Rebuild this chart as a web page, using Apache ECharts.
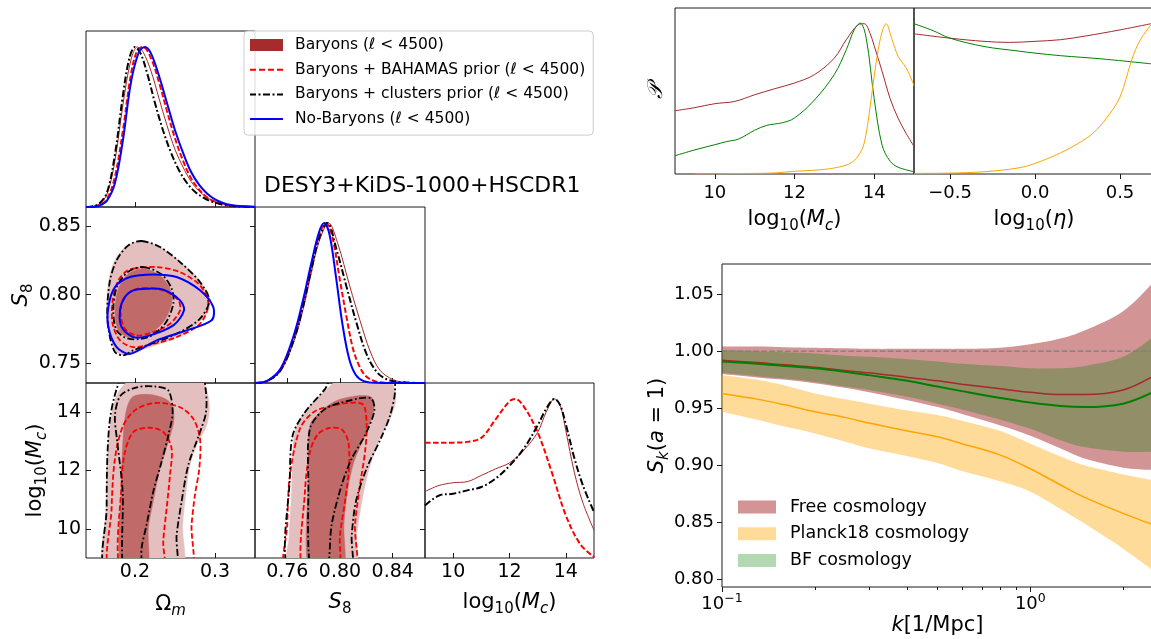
<!DOCTYPE html>
<html><head><meta charset="utf-8">
<script src="https://cdn.jsdelivr.net/npm/echarts@6/dist/echarts.min.js"></script>
<style>html,body{margin:0;padding:0;background:#fff}#c{width:1151px;height:639px}</style>
</head><body><div id="c"></div>
<script>
// ================= DATA =================
const N1 = 'Baryons (ℓ < 4500)';
const N2 = 'Baryons + BAHAMAS prior (ℓ < 4500)';
const N3 = 'Baryons + clusters prior (ℓ < 4500)';
const N4 = 'No-Baryons (ℓ < 4500)';
const C_FREE = 'Free cosmology', C_PL = 'Planck18 cosmology', C_BF = 'BF cosmology';
const TITLE = 'DESY3+KiDS-1000+HSCDR1';

// tick values
const omTicks = [0.2, 0.3];
const s8Ticks = [0.76, 0.80, 0.84];
const s8yTicks = [0.75, 0.80, 0.85];
const mcTicks = [10, 12, 14];
const etaTicks = [-0.5, 0, 0.5];
const skYTicks = [0.80, 0.85, 0.90, 0.95, 1.00, 1.05];
const kMajor = [0.1, 1];
const kMinor = [0.2, 0.3, 0.4, 0.5, 0.6, 0.7, 0.8, 0.9, 2];

// 1D marginals: Omega_m
const omFree = [[0.139,0],[0.145,0.002],[0.155,0.018],[0.165,0.08],[0.175,0.29],[0.185,0.64],[0.195,0.92],[0.203,1.0],[0.21,0.97],[0.22,0.85],[0.23,0.68],[0.24,0.51],[0.25,0.36],[0.26,0.25],[0.27,0.16],[0.28,0.1],[0.29,0.06],[0.30,0.034],[0.315,0.013],[0.33,0.004],[0.35,0]];
const omBahamas = [[0.139,0],[0.145,0.001],[0.155,0.01],[0.165,0.05],[0.175,0.19],[0.185,0.48],[0.195,0.83],[0.203,0.98],[0.21,1.0],[0.22,0.93],[0.23,0.78],[0.24,0.6],[0.25,0.43],[0.26,0.29],[0.27,0.18],[0.28,0.11],[0.29,0.06],[0.30,0.032],[0.31,0.015],[0.32,0.007],[0.335,0.002],[0.35,0]];
const omClusters = [[0.139,0],[0.145,0.002],[0.155,0.02],[0.165,0.09],[0.175,0.33],[0.185,0.70],[0.193,0.93],[0.20,1.0],[0.207,0.96],[0.215,0.84],[0.225,0.65],[0.235,0.48],[0.245,0.34],[0.255,0.23],[0.265,0.15],[0.275,0.095],[0.285,0.06],[0.295,0.035],[0.31,0.015],[0.325,0.005],[0.35,0]];
const omNoBar = [[0.139,0],[0.145,0],[0.155,0.008],[0.165,0.04],[0.175,0.15],[0.185,0.42],[0.195,0.78],[0.205,0.97],[0.2125,1.0],[0.22,0.96],[0.23,0.82],[0.24,0.65],[0.25,0.48],[0.26,0.34],[0.27,0.22],[0.28,0.14],[0.29,0.085],[0.30,0.048],[0.31,0.025],[0.32,0.012],[0.335,0.004],[0.35,0.001]];

// 1D marginals: S8
const s8Free = [[0.7355,0],[0.745,0.012],[0.755,0.075],[0.765,0.26],[0.772,0.46],[0.778,0.68],[0.784,0.88],[0.7914,1.0],[0.798,0.88],[0.8076,0.6],[0.8152,0.39],[0.8228,0.2],[0.8303,0.08],[0.8405,0.02],[0.85,0.004],[0.8645,0]];
const s8Bahamas = [[0.7355,0],[0.745,0.014],[0.755,0.085],[0.765,0.28],[0.772,0.5],[0.778,0.72],[0.784,0.92],[0.7894,1.0],[0.794,0.92],[0.80,0.64],[0.805,0.41],[0.81,0.21],[0.815,0.1],[0.82,0.04],[0.827,0.01],[0.835,0.002],[0.8645,0]];
const s8Clusters = [[0.7355,0],[0.745,0.013],[0.755,0.08],[0.765,0.27],[0.772,0.48],[0.778,0.7],[0.784,0.9],[0.7904,1.0],[0.7975,0.83],[0.805,0.6],[0.8127,0.37],[0.8202,0.18],[0.8278,0.07],[0.835,0.025],[0.845,0.006],[0.8645,0]];
const s8NoBar = [[0.7355,0],[0.745,0.015],[0.755,0.09],[0.765,0.3],[0.772,0.52],[0.778,0.74],[0.784,0.94],[0.788,1.0],[0.792,0.93],[0.797,0.66],[0.802,0.36],[0.807,0.15],[0.812,0.05],[0.818,0.012],[0.826,0.002],[0.8645,0]];

// 1D marginals: log10 Mc
const mcFree = [[9,0.418],[9.5,0.456],[10,0.473],[10.5,0.48],[11,0.519],[11.5,0.56],[12,0.598],[12.5,0.676],[13,0.79],[13.3,0.916],[13.6,1.0],[13.8,0.96],[14,0.8],[14.3,0.54],[14.6,0.35],[15,0.174]];
const mcBahamas = [[9,0.724],[9.5,0.724],[10,0.725],[10.5,0.73],[11,0.755],[11.5,0.87],[12,0.985],[12.2,1.0],[12.5,0.955],[13,0.79],[13.5,0.54],[14,0.268],[14.5,0.09],[15,0.006]];
const mcClusters = [[9,0.33],[9.5,0.393],[10,0.404],[10.5,0.425],[11,0.446],[11.5,0.498],[12,0.58],[12.5,0.686],[13,0.833],[13.3,0.937],[13.6,1.0],[13.8,0.96],[14,0.84],[14.3,0.63],[14.6,0.46],[15,0.289]];

// 2D contours: S8 vs Omega_m  [Omega_m, S8]
const s8omFree2 = [[0.2063,0.8392],[0.2271,0.8360],[0.2521,0.8263],[0.2771,0.8129],[0.2938,0.7971],[0.2896,0.7861],[0.2646,0.7727],[0.2313,0.7642],[0.2063,0.7594],[0.1896,0.7557],[0.1771,0.7582],[0.1688,0.7691],[0.1646,0.7861],[0.1667,0.8080],[0.1729,0.8226],[0.1854,0.8336]];
const s8omFree1 = [[0.2104,0.8190],[0.2313,0.8141],[0.2438,0.8044],[0.2458,0.7934],[0.2354,0.7800],[0.2146,0.7703],[0.1938,0.7686],[0.1792,0.7740],[0.1750,0.7886],[0.1792,0.8044],[0.1917,0.8153]];
const s8omClus2 = [[0.2083,0.8392],[0.2313,0.8348],[0.2563,0.8238],[0.2813,0.8092],[0.2929,0.7959],[0.2813,0.7825],[0.2563,0.7727],[0.2271,0.7655],[0.1979,0.7594],[0.1854,0.7557],[0.1750,0.7582],[0.1679,0.7715],[0.1654,0.7886],[0.1688,0.8105],[0.1771,0.8251],[0.1917,0.8360]];
const s8omClus1 = [[0.2104,0.8202],[0.2333,0.8148],[0.2458,0.8044],[0.2479,0.7934],[0.2375,0.7788],[0.2167,0.7691],[0.1917,0.7679],[0.1771,0.7740],[0.1729,0.7886],[0.1771,0.8051],[0.1908,0.8165]];
const s8omBah2 = [[0.1979,0.8190],[0.2271,0.8202],[0.2563,0.8165],[0.2813,0.8068],[0.2917,0.7934],[0.2813,0.7788],[0.2521,0.7691],[0.2229,0.7642],[0.1979,0.7618],[0.1813,0.7667],[0.1721,0.7788],[0.1721,0.7959],[0.1792,0.8105],[0.1896,0.8173]];
const s8omBah1 = [[0.2104,0.8049],[0.2354,0.8032],[0.2542,0.7959],[0.2563,0.7886],[0.2438,0.7788],[0.2229,0.7727],[0.2021,0.7703],[0.1875,0.7752],[0.1821,0.7861],[0.1846,0.7959],[0.1958,0.8027]];
const s8omNoB2 = [[0.2229,0.8148],[0.2521,0.8129],[0.2813,0.8032],[0.2979,0.7910],[0.2958,0.7813],[0.2646,0.7740],[0.2271,0.7667],[0.1938,0.7569],[0.1771,0.7618],[0.1667,0.7764],[0.1667,0.7910],[0.1750,0.8056],[0.1938,0.8129]];
const s8omNoB1 = [[0.2146,0.8044],[0.2354,0.8036],[0.2563,0.7959],[0.2613,0.7886],[0.2479,0.7776],[0.2146,0.7696],[0.1979,0.7691],[0.1833,0.7764],[0.1813,0.7886],[0.1875,0.7983],[0.1979,0.8032]];

// 2D contours: log10 Mc vs Omega_m  [Omega_m, Mc]
const mcomFree2 = [[0.1638,8.44],[0.1638,10.71],[0.1654,12.41],[0.1688,13.55],[0.1771,14.57],[0.1896,15.02],[0.2063,15.25],[0.2646,15.25],[0.2854,15.02],[0.2929,14.23],[0.2896,13.55],[0.2771,12.87],[0.2688,12.19],[0.2638,11.28],[0.2596,10.15],[0.2571,8.44]];
const mcomFree1 = [[0.1833,8.44],[0.1833,11.85],[0.1854,13.21],[0.1896,14.11],[0.1979,14.54],[0.2229,14.59],[0.2438,14.34],[0.2488,13.77],[0.2417,12.98],[0.2313,12.07],[0.2229,10.94],[0.2167,10.03],[0.2146,8.44]];
const mcomClus2 = [[0.1646,8.44],[0.1646,10.71],[0.1654,12.41],[0.1688,13.77],[0.1771,14.79],[0.1896,15.47],[0.2813,15.47],[0.2883,14.79],[0.2888,14.0],[0.2813,13.32],[0.2667,12.19],[0.2583,10.94],[0.2521,9.80],[0.2488,8.44]];
const mcomClus1 = [[0.1863,8.44],[0.1846,11.28],[0.1779,12.98],[0.1750,13.89],[0.1821,14.57],[0.2021,14.85],[0.2250,14.88],[0.2417,14.74],[0.2471,14.0],[0.2417,13.21],[0.2333,12.30],[0.2229,11.28],[0.2146,10.15],[0.2083,9.35],[0.2063,8.44]];
const mcomBah2 = [[0.1708,8.44],[0.1708,10.71],[0.1750,12.41],[0.1854,13.55],[0.2021,14.11],[0.2271,14.32],[0.2563,14.17],[0.2729,13.77],[0.2813,13.09],[0.2804,12.07],[0.2750,11.17],[0.2708,10.15],[0.2679,8.44]];
const mcomBah1 = [[0.1833,8.44],[0.1833,11.62],[0.1875,12.64],[0.1979,13.32],[0.2167,13.47],[0.2354,13.32],[0.2458,12.75],[0.2438,11.85],[0.2396,10.71],[0.2354,9.58],[0.2346,8.44]];

// 2D contours: log10 Mc vs S8  [S8, Mc]
const mcs8Free2 = [[0.7608,8.44],[0.7615,9.80],[0.7633,11.28],[0.7646,12.98],[0.7684,13.66],[0.7772,14.23],[0.7899,14.79],[0.8,15.13],[0.8278,15.25],[0.8392,15.02],[0.8423,14.45],[0.8385,13.83],[0.8291,12.98],[0.8208,11.85],[0.8157,10.71],[0.8127,9.80],[0.8106,8.44]];
const mcs8Free1 = [[0.7772,8.44],[0.7760,11.85],[0.7772,13.55],[0.7848,14.0],[0.7975,14.40],[0.8152,14.57],[0.8240,14.51],[0.8258,14.11],[0.8190,13.21],[0.8106,12.30],[0.8056,11.28],[0.8030,10.15],[0.8018,8.44]];
const mcs8Clus2 = [[0.7620,8.44],[0.7620,11.85],[0.7641,13.21],[0.7734,14.0],[0.7886,14.79],[0.7949,15.25],[0.8392,15.25],[0.8418,14.74],[0.8380,13.89],[0.8309,13.09],[0.8202,12.07],[0.8121,10.94],[0.8089,9.80],[0.8071,8.44]];
const mcs8Clus1 = [[0.7780,8.44],[0.7760,11.62],[0.7772,13.43],[0.7886,14.11],[0.8076,14.40],[0.8233,14.48],[0.8261,14.06],[0.8190,13.21],[0.8089,12.41],[0.8013,11.51],[0.7937,10.15],[0.7894,8.44]];
const mcs8Bah2 = [[0.7595,8.44],[0.7600,10.15],[0.7620,11.85],[0.7696,13.43],[0.7798,14.0],[0.7924,14.20],[0.8076,14.32],[0.8177,14.25],[0.8202,13.55],[0.8190,12.64],[0.8152,11.51],[0.8114,10.15],[0.8101,8.44]];
const mcs8Bah1 = [[0.7722,8.44],[0.7734,11.28],[0.7772,12.64],[0.7835,13.26],[0.7924,13.46],[0.8013,13.41],[0.8063,12.98],[0.8068,12.07],[0.8038,10.94],[0.8,9.80],[0.7980,8.44]];

// Top-right: posteriors of log10 Mc and log10 eta
const pMcFree = [[9,0.419],[9.5,0.44],[10,0.466],[10.5,0.481],[11,0.525],[11.5,0.565],[12,0.603],[12.5,0.658],[13,0.768],[13.3,0.89],[13.6,0.989],[13.75,0.996],[13.9,0.93],[14,0.85],[14.2,0.68],[14.4,0.5],[14.6,0.37],[14.8,0.27],[15,0.183]];
const pMcBF = [[9,0.121],[9.5,0.16],[10,0.194],[10.3,0.215],[10.6,0.232],[11,0.29],[11.3,0.322],[11.7,0.34],[12,0.371],[12.5,0.49],[13,0.66],[13.3,0.823],[13.5,0.956],[13.65,1.0],[13.8,0.9],[14,0.5],[14.2,0.19],[14.4,0.085],[14.6,0.045],[15,0.015]];
const pMcPlanck = [[9.5,0],[10,0.001],[10.5,0.003],[11,0.004],[11.5,0.007],[12,0.018],[12.5,0.025],[13,0.04],[13.4,0.07],[13.6,0.12],[13.75,0.205],[13.9,0.448],[14,0.647],[14.15,0.89],[14.3,0.996],[14.45,0.89],[14.6,0.78],[14.75,0.724],[14.85,0.68],[15,0.585]];
const pEtaFree = [[-0.712,0.929],[-0.5,0.9],[-0.3,0.879],[-0.15,0.872],[0,0.879],[0.15,0.89],[0.3,0.915],[0.5,0.955],[0.7,1.0]];
const pEtaBF = [[-0.712,0.996],[-0.6,0.95],[-0.5,0.9],[-0.3,0.845],[-0.1,0.815],[0,0.801],[0.15,0.784],[0.4,0.762],[0.7,0.728]];
const pEtaPlanck = [[-0.712,0.004],[-0.5,0.006],[-0.3,0.015],[-0.1,0.04],[0,0.07],[0.15,0.14],[0.25,0.2],[0.34,0.27],[0.42,0.37],[0.5,0.51],[0.57,0.76],[0.62,0.89],[0.69,1.0]];

// Bottom-right: S_k(a=1)
const skK = [0.1, 0.13, 0.16, 0.2, 0.25, 0.3, 0.4, 0.5, 0.6, 0.8, 1.0, 1.25, 1.5, 2.0, 2.5];
const skFreeMid = [0.992,0.990,0.988,0.986,0.983,0.981,0.977,0.974,0.971,0.967,0.964,0.962,0.962,0.966,0.978];
const skFreeHi  = [1.004,1.004,1.0035,1.003,1.0025,1.002,1.002,1.002,1.002,1.003,1.006,1.011,1.018,1.035,1.060];
const skFreeLo  = [0.980,0.977,0.975,0.972,0.968,0.964,0.957,0.951,0.945,0.935,0.926,0.915,0.906,0.898,0.896];
const skBFMid = [0.991,0.989,0.987,0.985,0.982,0.979,0.974,0.969,0.965,0.959,0.955,0.952,0.951,0.954,0.964];
const skBFHi  = [1.001,1.000,0.999,0.998,0.996,0.995,0.993,0.991,0.989,0.987,0.985,0.985,0.987,0.995,1.012];
const skBFLo  = [0.981,0.978,0.976,0.973,0.969,0.966,0.960,0.954,0.949,0.940,0.932,0.922,0.916,0.912,0.912];
const skPlMid = [0.963,0.958,0.953,0.947,0.942,0.937,0.930,0.925,0.919,0.909,0.897,0.883,0.872,0.858,0.848];
const skPlHi  = [0.979,0.975,0.970,0.963,0.958,0.954,0.948,0.944,0.939,0.930,0.919,0.908,0.900,0.892,0.887];
const skPlLo  = [0.947,0.940,0.934,0.928,0.921,0.915,0.908,0.902,0.895,0.886,0.877,0.862,0.849,0.827,0.808];
const unityK = [0.1, 2.5];
const unityY = [1, 1];

// ================= STYLE =================
const F = 'DejaVu Sans';
const INK = '#1a1a1a';
const BROWN = '#a52a2a', RED = '#ff0000', BLACK = '#000000', BLUE = '#0000ff';
const GREEN = '#008000', ORANGE = '#ffa500';
const FILL2 = '#e3bfbf', FILL1 = '#c06a6a';
const DASH = [5.5, 2.5], DASHDOT = [7, 2.5, 1.8, 2.5];

function rich(fs) {
  const lh = Math.round(fs * 1.35), s = Math.round(fs * 0.7);
  return {
    n: {fontFamily: F, fontSize: fs, lineHeight: lh, color: '#000'},
    i: {fontFamily: F, fontSize: fs, fontStyle: 'italic', lineHeight: lh, color: '#000'},
    sub: {fontFamily: F, fontSize: s, lineHeight: s, verticalAlign: 'bottom', color: '#000'},
    isub: {fontFamily: F, fontSize: s, fontStyle: 'italic', lineHeight: s, verticalAlign: 'bottom', color: '#000'},
    sup: {fontFamily: F, fontSize: s, lineHeight: s, verticalAlign: 'top', color: '#000'}
  };
}
const NAME_OM = '{n|Ω}{isub|m}';
const NAME_S8 = '{i|S}{sub|8}';
const NAME_MC = '{n|log}{sub|10}{n|(}{i|M}{isub|c}{n|)}';
const NAME_ETA = '{n|log}{sub|10}{n|(}{i|η}{n|)}';
const NAME_P = '{i|𝒫}';
const NAME_SK = '{i|S}{isub|k}{n|(}{i|a}{n| = 1)}';
const NAME_K = '{i|k}{n|[1/Mpc]}';

const f1 = v => v.toFixed(1);
const f2 = v => v.toFixed(2);
const f0 = v => String(Math.round(v));
const fEta = v => (v < -1e-9 ? '\u2212' + Math.abs(v).toFixed(1) : Math.abs(v).toFixed(1));

function axis(o) {
  const a = {
    type: o.type || 'value', gridIndex: o.g, min: o.min, max: o.max, position: o.pos,
    splitLine: {show: false}, axisLine: {show: false},
    axisTick: {show: !!o.ticks, inside: !o.out, length: o.tl || 5, lineStyle: {color: INK, width: 1}},
    axisLabel: {show: !!o.fmt, color: '#000', fontFamily: F, fontSize: o.fs || 19, margin: o.margin == null ? 5 : o.margin},
    nameMoveOverlap: false, silent: true
  };
  if (o.ticks) { a.axisTick.customValues = o.ticks; a.axisLabel.customValues = o.ticks; }
  if (o.fmt) a.axisLabel.formatter = o.fmt;
  if (o.lrich) a.axisLabel.rich = o.lrich;
  if (o.type === 'log') a.logBase = 10;
  if (o.name) {
    a.name = o.name; a.nameLocation = 'middle'; a.nameGap = o.gap;
    a.nameTextStyle = {rich: rich(o.nfs || 21), fontFamily: F, fontSize: o.nfs || 21, color: '#000'};
  }
  return a;
}

const grids = [
  [86, 31, 169, 176], [86, 207, 169, 176], [255, 207, 170, 176],
  [86, 383, 169, 175], [255, 383, 170, 175], [425, 383, 169, 175],
  [675, 8, 239, 166], [914, 8, 240, 166], [722, 264, 431, 323]
].map(r => ({left: r[0], top: r[1], width: r[2], height: r[3], show: true, borderColor: INK, borderWidth: 1,
  backgroundColor: 'transparent', containLabel: false, outerBoundsMode: 'none'}));

const OM = [0.1388, 0.35], S8X = [0.7355, 0.8645], S8Y = [0.7356, 0.864], MC = [9, 15], PY = [0, 1.1];
const supRich = {n: {fontFamily: F, fontSize: 18, lineHeight: 24, color: '#000'}, sup: {fontFamily: F, fontSize: 12.5, lineHeight: 12, verticalAlign: 'top', color: '#000'}};

const xAxes = [
  axis({g: 0, min: OM[0], max: OM[1], ticks: omTicks, pos: 'bottom'}),                               // 0
  axis({g: 1, min: OM[0], max: OM[1], ticks: omTicks, pos: 'bottom'}),                               // 1
  axis({g: 2, min: S8X[0], max: S8X[1], ticks: s8Ticks, pos: 'bottom'}),                             // 2
  axis({g: 3, min: OM[0], max: OM[1], ticks: omTicks, fmt: f1, pos: 'bottom', name: NAME_OM, gap: 33}),   // 3
  axis({g: 4, min: S8X[0], max: S8X[1], ticks: s8Ticks, fmt: f2, pos: 'bottom', name: NAME_S8, gap: 31}), // 4
  axis({g: 5, min: MC[0], max: MC[1], ticks: mcTicks, fmt: f0, pos: 'bottom', name: NAME_MC, gap: 31}),   // 5
  axis({g: 6, min: MC[0], max: MC[1], ticks: mcTicks, fmt: f0, out: true, fs: 18, margin: 10, pos: 'bottom', name: NAME_MC, gap: 32}), // 6
  axis({g: 7, min: -0.712, max: 0.7, ticks: etaTicks, fmt: fEta, out: true, fs: 18, margin: 10, pos: 'bottom', name: NAME_ETA, gap: 32}), // 7
  axis({g: 8, type: 'log', min: 0.1, max: 2.5, ticks: kMajor, out: true, tl: 5, margin: 5, pos: 'bottom', lrich: supRich,
        fmt: v => '{n|10}{sup|' + String(Math.round(Math.log10(v))).replace('-', '\u2212') + '}', name: NAME_K, gap: 25}), // 8
  axis({g: 8, type: 'log', min: 0.1, max: 2.5, ticks: kMinor, out: true, tl: 3, pos: 'bottom'})    // 9
];

const yAxes = [
  axis({g: 0, min: PY[0], max: PY[1]}),                                                               // 0
  axis({g: 1, min: S8Y[0], max: S8Y[1], ticks: s8yTicks, fmt: f2, pos: 'left', name: NAME_S8, gap: 50}), // 1
  axis({g: 1, min: S8Y[0], max: S8Y[1], ticks: s8yTicks, pos: 'right'}),                             // 2
  axis({g: 2, min: PY[0], max: PY[1]}),                                                               // 3
  axis({g: 3, min: MC[0], max: MC[1], ticks: mcTicks, fmt: f0, pos: 'left', name: NAME_MC, gap: 36}),  // 4
  axis({g: 3, min: MC[0], max: MC[1], ticks: mcTicks, pos: 'right'}),                                 // 5
  axis({g: 4, min: MC[0], max: MC[1], ticks: mcTicks, pos: 'left'}),                                  // 6
  axis({g: 4, min: MC[0], max: MC[1], ticks: mcTicks, pos: 'right'}),                                 // 7
  axis({g: 5, min: PY[0], max: PY[1]}),                                                               // 8
  axis({g: 6, min: PY[0], max: PY[1], pos: 'left', name: NAME_P, gap: 4}),                            // 9
  axis({g: 7, min: PY[0], max: PY[1]}),                                                               // 10
  axis({g: 8, min: 0.7935, max: 1.0763, ticks: skYTicks, fmt: f2, out: true, fs: 18, margin: 8, pos: 'left', name: NAME_SK, gap: 50}) // 11
];

// ================= SERIES BUILDERS =================
function line(name, xi, yi, data, color, width, type, z) {
  return {type: 'line', name: name, xAxisIndex: xi, yAxisIndex: yi, data: data, showSymbol: false, symbol: 'none',
    smooth: 0.35, silent: true, z: z || 5, lineStyle: {color: color, width: width, type: type || 'solid'},
    itemStyle: {color: color}, emphasis: {disabled: true}};
}
function clipGroup(params, children) {
  const cs = params.coordSys;
  return {type: 'group', clipPath: {type: 'rect', shape: {x: cs.x, y: cs.y, width: cs.width, height: cs.height}}, children: children};
}
function contour(name, xi, yi, pts, style, z) {
  return {type: 'custom', name: name, xAxisIndex: xi, yAxisIndex: yi, data: pts, encode: {x: 0, y: 1},
    silent: true, clip: true, z: z,
    renderItem: function (params, api) {
      if (params.dataIndex !== 0) return null;
      const n = params.dataInsideLength, P = [];
      for (let i = 0; i < n; i++) P.push(api.coord([api.value(0, i), api.value(1, i)]));
      return clipGroup(params, [{type: 'polygon', shape: {points: P, smooth: 0.3}, style: style}]);
    }};
}
function crPath(p) {
  let s = '';
  for (let i = 0; i < p.length - 1; i++) {
    const p0 = p[Math.max(i - 1, 0)], p1 = p[i], p2 = p[i + 1], p3 = p[Math.min(i + 2, p.length - 1)];
    s += 'C' + (p1[0] + (p2[0] - p0[0]) / 6) + ',' + (p1[1] + (p2[1] - p0[1]) / 6) + ',' +
         (p2[0] - (p3[0] - p1[0]) / 6) + ',' + (p2[1] - (p3[1] - p1[1]) / 6) + ',' + p2[0] + ',' + p2[1];
  }
  return s;
}
function band(name, hi, lo, fill, z) {
  const data = skK.map((k, i) => [k, hi[i], lo[i]]);
  return {type: 'custom', name: name, xAxisIndex: 8, yAxisIndex: 11, data: data, encode: {x: 0, y: [1, 2]},
    silent: true, clip: true, z: z,
    renderItem: function (params, api) {
      if (params.dataIndex !== 0) return null;
      const n = params.dataInsideLength, U = [], L = [];
      for (let i = 0; i < n; i++) {
        const x = api.value(0, i);
        U.push(api.coord([x, api.value(1, i)]));
        L.push(api.coord([x, api.value(2, i)]));
      }
      L.reverse();
      const d = 'M' + U[0][0] + ',' + U[0][1] + crPath(U) + 'L' + L[0][0] + ',' + L[0][1] + crPath(L) + 'Z';
      return clipGroup(params, [{type: 'path', shape: {pathData: d}, style: {fill: fill, stroke: null}}]);
    }};
}
const pair = (xs, ys) => xs.map((x, i) => [x, ys[i]]);

const fill2 = {fill: FILL2, stroke: FILL2, lineWidth: 0.5};
const fill1 = {fill: FILL1, stroke: FILL1, lineWidth: 0.5};
const stRed = {fill: 'none', stroke: RED, lineWidth: 1.8, lineDash: DASH};
const stBlack = {fill: 'none', stroke: BLACK, lineWidth: 1.8, lineDash: DASHDOT};
const stBlue = {fill: 'none', stroke: BLUE, lineWidth: 2};

const series = [
  // 1D Omega_m (x0,y0)
  line(N1, 0, 0, omFree, BROWN, 1),
  line(N2, 0, 0, omBahamas, RED, 2, DASH),
  line(N3, 0, 0, omClusters, BLACK, 2, DASHDOT),
  line(N4, 0, 0, omNoBar, BLUE, 2),
  // 1D S8 (x2,y3)
  line(N1, 2, 3, s8Free, BROWN, 1),
  line(N2, 2, 3, s8Bahamas, RED, 2, DASH),
  line(N3, 2, 3, s8Clusters, BLACK, 2, DASHDOT),
  line(N4, 2, 3, s8NoBar, BLUE, 2),
  // 1D Mc (x5,y8)
  line(N1, 5, 8, mcFree, BROWN, 1),
  line(N2, 5, 8, mcBahamas, RED, 2, DASH),
  line(N3, 5, 8, mcClusters, BLACK, 2, DASHDOT),
  // S8 vs Om (x1,y1)
  contour(N1, 1, 1, s8omFree2, fill2, 2),
  contour(N1, 1, 1, s8omFree1, fill1, 3),
  contour(N2, 1, 1, s8omBah2, stRed, 4),
  contour(N2, 1, 1, s8omBah1, stRed, 4),
  contour(N3, 1, 1, s8omClus2, stBlack, 4),
  contour(N3, 1, 1, s8omClus1, stBlack, 4),
  contour(N4, 1, 1, s8omNoB2, stBlue, 4),
  contour(N4, 1, 1, s8omNoB1, stBlue, 4),
  // Mc vs Om (x3,y4)
  contour(N1, 3, 4, mcomFree2, fill2, 2),
  contour(N1, 3, 4, mcomFree1, fill1, 3),
  contour(N2, 3, 4, mcomBah2, stRed, 4),
  contour(N2, 3, 4, mcomBah1, stRed, 4),
  contour(N3, 3, 4, mcomClus2, stBlack, 4),
  contour(N3, 3, 4, mcomClus1, stBlack, 4),
  // Mc vs S8 (x4,y6)
  contour(N1, 4, 6, mcs8Free2, fill2, 2),
  contour(N1, 4, 6, mcs8Free1, fill1, 3),
  contour(N2, 4, 6, mcs8Bah2, stRed, 4),
  contour(N2, 4, 6, mcs8Bah1, stRed, 4),
  contour(N3, 4, 6, mcs8Clus2, stBlack, 4),
  contour(N3, 4, 6, mcs8Clus1, stBlack, 4),
  // top-right posteriors
  line(C_FREE, 6, 9, pMcFree, BROWN, 1),
  line(C_BF, 6, 9, pMcBF, GREEN, 1),
  line(C_PL, 6, 9, pMcPlanck, ORANGE, 1),
  line(C_FREE, 7, 10, pEtaFree, BROWN, 1),
  line(C_BF, 7, 10, pEtaBF, GREEN, 1),
  line(C_PL, 7, 10, pEtaPlanck, ORANGE, 1),
  // S_k bands and lines
  band(C_FREE, skFreeHi, skFreeLo, 'rgba(165,42,42,0.5)', 2),
  band(C_PL, skPlHi, skPlLo, 'rgba(255,165,0,0.4)', 3),
  band(C_BF, skBFHi, skBFLo, 'rgba(0,128,0,0.3)', 4),
  line('', 8, 11, pair(unityK, unityY), 'rgba(128,128,128,0.9)', 1.5, [5.5, 2.4], 5),
  line(C_FREE, 8, 11, pair(skK, skFreeMid), BROWN, 1.5, 'solid', 6),
  line(C_BF, 8, 11, pair(skK, skBFMid), GREEN, 2, 'solid', 6),
  line(C_PL, 8, 11, pair(skK, skPlMid), ORANGE, 1.5, 'solid', 6)
];

const legends = [
  {
    left: 244, top: 31, orient: 'vertical', selectedMode: false,
    itemWidth: 33, itemHeight: 12, itemGap: 6.7,
    padding: [5, 8, 7, 6],
    backgroundColor: 'rgba(255,255,255,0.85)', borderColor: '#cccccc', borderWidth: 1, borderRadius: 4,
    data: [
      {name: N1, icon: 'rect', itemStyle: {color: '#a62c2c'}},
      {name: N2, icon: 'path://M0,0h6v2h-6z M9,0h6v2h-6z M18,0h6v2h-6z M27,0h6v2h-6z', itemStyle: {color: RED}},
      {name: N3, icon: 'path://M0,0h6v2h-6z M8.5,0h2v2h-2z M13,0h7v2h-7z M22.5,0h2v2h-2z M27,0h6v2h-6z', itemStyle: {color: BLACK}},
      {name: N4, icon: 'path://M0,0h33v2h-33z', itemStyle: {color: BLUE}}
    ],
    formatter: name => '{g|}' + name,
    textStyle: {fontFamily: F, fontSize: 15.5, color: '#000', lineHeight: 18, rich: {g: {width: 7}}}
  },
  {
    left: 738, top: 497, orient: 'vertical', selectedMode: false,
    itemWidth: 38, itemHeight: 13, itemGap: 6.7, padding: 0,
    data: [
      {name: C_FREE, icon: 'rect', itemStyle: {color: 'rgba(165,42,42,0.5)'}},
      {name: C_PL, icon: 'rect', itemStyle: {color: 'rgba(255,165,0,0.4)'}},
      {name: C_BF, icon: 'rect', itemStyle: {color: 'rgba(0,128,0,0.3)'}}
    ],
    formatter: name => '{g|}' + name,
    textStyle: {fontFamily: F, fontSize: 17.5, color: '#000', lineHeight: 20, rich: {g: {width: 9}}}
  }
];

const chart = echarts.init(document.getElementById('c'), null, {renderer: 'canvas'});
chart.setOption({
  animation: false,
  backgroundColor: '#ffffff',
  textStyle: {fontFamily: F},
  title: {text: TITLE, left: 264, top: 175, padding: 0,
    textStyle: {fontFamily: F, fontSize: 22, fontWeight: 'normal', color: '#000'}},
  legend: legends,
  grid: grids,
  xAxis: xAxes,
  yAxis: yAxes,
  series: series
});
</script></body></html>
